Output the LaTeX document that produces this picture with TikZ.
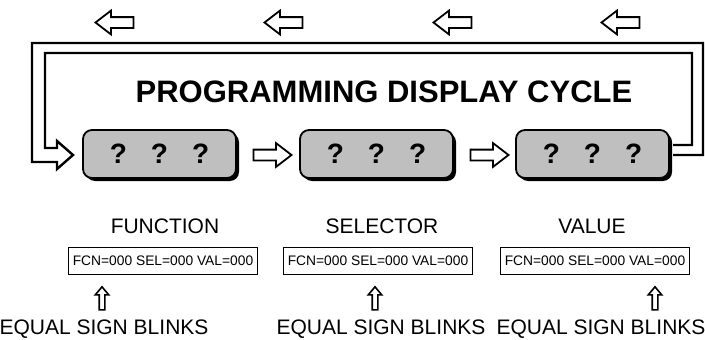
\documentclass[tikz,border=0pt]{standalone}
\usepackage{fontspec}
\setmainfont{Liberation Sans}
\usetikzlibrary{shapes.arrows,shadows}

\begin{document}
\begin{tikzpicture}[x=1pt,y=-1pt,
	hollowarrow/.style={single arrow, draw, line width=1.8pt, fill=white,
		inner sep=4.5pt, minimum height=38pt,
		single arrow head extend=6.5pt, single arrow tip angle=75},
	uparrow/.style={single arrow, draw, line width=1.6pt, fill=white,
		inner sep=2pt, minimum height=23pt,
		single arrow head extend=4pt, single arrow tip angle=80,
		shape border rotate=90},
	display/.style={draw, line width=1.8pt, rounded corners=9pt, fill=gray!50,
		minimum width=153pt, minimum height=48pt,
		drop shadow={shadow xshift=3pt, shadow yshift=-3pt, fill=black, opacity=1},
		font=\bfseries\fontsize{28}{28}\selectfont},
	readout/.style={draw, line width=1.2pt, inner xsep=4pt, minimum height=27pt,
		font=\fontsize{13.8}{14}\selectfont},
	caption/.style={anchor=base, font=\fontsize{21}{21}\selectfont}]
		\useasboundingbox (0,0) rectangle (705,340);
		\def\outL{32}
		\def\inL{45}
		\def\outT{43}
		\def\inT{53}
		\def\outR{703}
		\def\inR{692}
		\def\qq{?\hspace{24pt}?\hspace{24pt}?}
		% arrows on top
		\foreach \i/\xx in {1/118,2/287,3/456,4/624}
			\node[hollowarrow, shape border rotate=180] (top\i) at (\xx,22.5) {};
		% return loop
		\draw[line width=2.4pt, line join=miter] (673,145) -- (\inR,145) -- (\inR,\inT) -- (\inL,\inT)
			-- (\inL,148) -- (57,148) -- (57,141) -- (73,155) -- (57,169) -- (57,162)
			-- (\outL,162) -- (\outL,\outT) -- (\outR,\outT) -- (\outR,155) -- (673,155);
		\node[anchor=base, font=\bfseries\fontsize{31}{31}\selectfont] (title) at (384,102)
			{PROGRAMMING DISPLAY CYCLE};
		% the three displays
		\node[display] (disp1) at (159.5,154) {\qq};
		\node[display] (disp2) at (376.5,154) {\qq};
		\node[display] (disp3) at (592.5,154) {\qq};
		\node[hollowarrow] (next1) at (269,155) {};
		\node[hollowarrow] (next2) at (486,155) {};
		% captions and readouts
		\node[caption] (lab1) at (165,233) {FUNCTION};
		\node[caption] (lab2) at (382,233) {SELECTOR};
		\node[caption] (lab3) at (592,233) {VALUE};
		\node[readout] (rd1) at (163,261) {FCN=000 SEL=000 VAL=000};
		\node[readout] (rd2) at (378,261) {FCN=000 SEL=000 VAL=000};
		\node[readout] (rd3) at (595,261) {FCN=000 SEL=000 VAL=000};
		\node[uparrow] (up1) at (102,300) {};
		\node[uparrow] (up2) at (375,300) {};
		\node[uparrow] (up3) at (655,300) {};
		\node[caption] (blink1) at (104,334) {EQUAL SIGN BLINKS};
		\node[caption] (blink2) at (381,334) {EQUAL SIGN BLINKS};
		\node[caption] (blink3) at (601,334) {EQUAL SIGN BLINKS};
	\end{tikzpicture}
\end{document}
